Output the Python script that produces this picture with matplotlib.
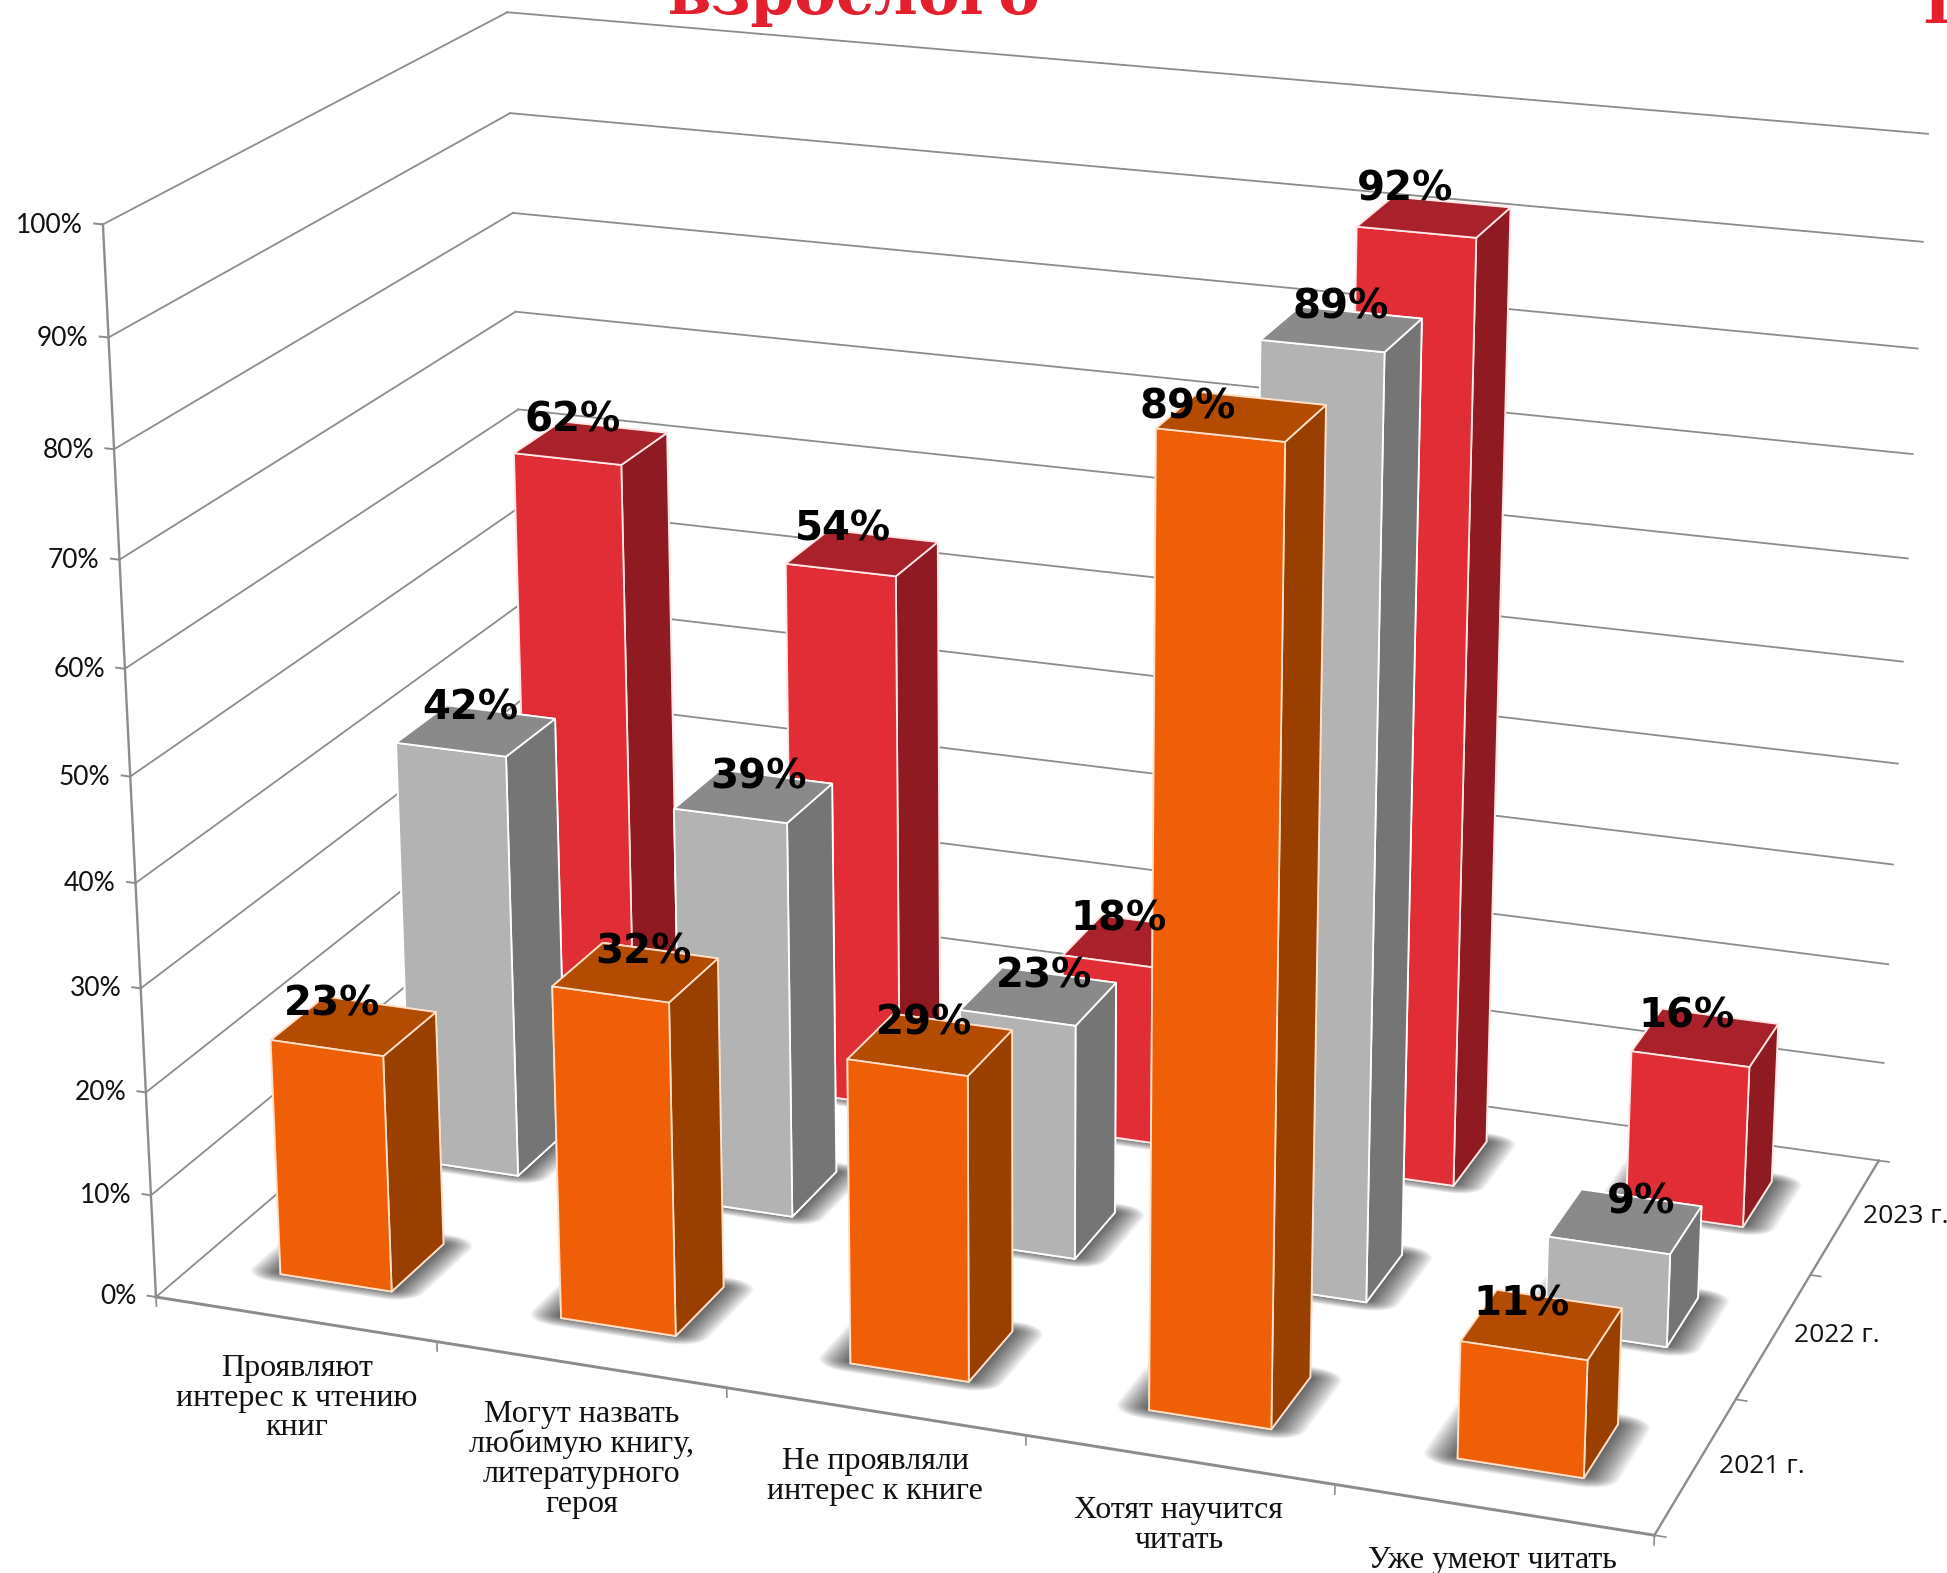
import numpy as np
import matplotlib
matplotlib.use("Agg")
import matplotlib.pyplot as plt
from mpl_toolkits.mplot3d.art3d import Poly3DCollection, Line3DCollection

W, H = 1947, 1573

# ---- chart data -----
categories = ["Проявляют\nинтерес к чтению\nкниг",
              "Могут назвать\nлюбимую книгу,\nлитературного\nгероя",
              "Не проявляли\nинтерес к книге",
              "Хотят научится\nчитать",
              "Уже умеют читать"]
series_names = ["2021 г.", "2022 г.", "2023 г."]
values_2021 = [23, 32, 29, 89, 11]
values_2022 = [42, 39, 23, 89, 9]
values_2023 = [62, 54, 18, 92, 16]
z_ticks = [0, 10, 20, 30, 40, 50, 60, 70, 80, 90, 100]

# ---- styles -----
front_cols = ["#EE5F08", "#B3B3B3", "#E02D36"]
side_cols = ["#994000", "#757575", "#8F1A22"]
top_cols = ["#B34B00", "#8A8A8A", "#A9212B"]
edge_cols = ["#FFE0C8", "#FFFFFF", "#FFE8E8"]
line_col = "#8C8C8C"

BAR = 0.4
PAD = 0.3

# label placement relative to each bar's top centre (x units, z units)
label_dx = [[-0.075, 0.03, -0.02, -0.17, -0.065],
            [-0.02, 0.02, 0.02, -0.005, 0.05],
            [-0.065, -0.07, -0.07, -0.10, -0.065]]
label_dz = [[1.8, 2.0, 1.9, 0.3, 1.6],
            [2.1, 1.9, 2.0, 1.9, 2.1],
            [2.1, 2.1, 2.1, 2.3, 1.9]]

# ---- perspective of the original chart: (x, y, z) -> pixel, fitted with the DLT method -----
calib = [
    (0, 0, 0, 157, 1298), (5, 0, 0, 1653, 1533), (5, 3, 0, 1878, 1160),
    (0, 0, 100, 103, 224), (0, 3, 100, 507, 12), (5, 3, 100, 1928, 133),
    (0, 0, 90, 109, 337), (0, 0, 80, 114, 449), (0, 0, 70, 120, 559), (0, 0, 60, 125, 667),
    (0, 0, 30, 140, 987), (0, 0, 20, 146, 1092), (0, 0, 10, 151, 1195),
    (0, 3, 80, 513, 213), (0, 3, 70, 515, 312), (0, 3, 60, 518, 410),
    (1, 0, 0, 437, 1341), (2, 0, 0, 726, 1386), (3, 0, 0, 1026, 1433), (4, 0, 0, 1335, 1485),
    (5, 1, 0, 1738, 1396), (5, 2, 0, 1813, 1271),
    (4.3, .3, 0, 1457, 1460), (4.7, .3, 0, 1584, 1478), (4.7, .7, 0, 1618, 1427),
    (4.3, .3, 11, 1460, 1344), (4.7, .3, 11, 1587, 1362), (4.7, .7, 11, 1620, 1312),
    (.3, .3, 0, 280, 1275), (.7, .3, 0, 392, 1292), (.7, .7, 0, 443, 1245),
    (.3, .3, 23, 272, 1041), (.7, .3, 23, 383, 1057), (.7, .7, 23, 435, 1013),
    (3.3, 2.3, 92, 1359, 228), (3.7, 2.3, 92, 1476, 238), (3.7, 2.7, 92, 1509, 208),
]
A, b = [], []
for X, Y, Z, u, v in calib:
    Z = Z / 100
    A.append([X, Y, Z, 1, 0, 0, 0, 0, -u * X, -u * Y, -u * Z]); b.append(u)
    A.append([0, 0, 0, 0, X, Y, Z, 1, -v * X, -v * Y, -v * Z]); b.append(v)
p = np.linalg.lstsq(np.array(A, float), np.array(b, float), rcond=None)[0]
P = np.append(p, 1.0).reshape(3, 4)
P[:, 2] /= 100
M = np.array([P[0], P[1], [0, 0, 0, -1.0], P[2]])

fig = plt.figure(figsize=(W / 100, H / 100), dpi=100, facecolor="white")
ax = fig.add_axes([0, 0, 1, 1], projection="3d", computed_zorder=False)
ax.set_axis_off()
ax.set_xticks([])
ax.set_yticks([])
ax.set_zticks([])
ax.get_proj = lambda: M
ax.apply_aspect = lambda position=None: None
ax.viewLim.intervalx = (0, W)
ax.viewLim.intervaly = (H, 0)


def label3d(x, y, z, s, **kw):
    """Real 2D text anchored at the projection of a chart coordinate."""
    u, v, w = P @ np.array([x, y, z, 1.0])
    return ax.text2D(u / w, v / w, s, transform=ax.transData, **kw)


def add_lines(segments, lw):
    ax.add_collection3d(Line3DCollection(segments, colors=line_col, linewidths=lw,
                                         zorder=5, capstyle="projecting"))


# walls
add_lines([[(0, 0, t), (0, 3, t)] for t in z_ticks] + [[(0, 3, t), (5, 3, t)] for t in z_ticks], 1.3)
add_lines([[(-0.03, 0, t), (0, 0, t)] for t in z_ticks], 1.4)
add_lines([[(0, 0, z_ticks[0]), (0, 0, z_ticks[-1])]], 1.7)
add_lines([[(0, 0, 0), (5, 0, 0)]], 2.1)
add_lines([[(5, 0, 0), (5, 3, 0)]], 1.7)
add_lines([[(i, 0, 0), (i, 0, -0.9)] for i in range(6)], 1.2)
add_lines([[(5, j, 0), (5.035, j, 0)] for j in range(4)], 1.2)

for t in z_ticks:
    label3d(-0.07, 0, t - 0.3, f"{t}%", ha="right", va="center", fontsize=19,
            family="Lato", color="#111111", zorder=50)

rows = [values_2021, values_2022, values_2023]


def rounded_rect(xa, xb, ya, yb, xr, yr, n=6):
    pts = []
    centres = [(xb - xr, yb - yr, 0), (xa + xr, yb - yr, 90), (xa + xr, ya + yr, 180), (xb - xr, ya + yr, 270)]
    for cx, cy, start in centres:
        for a in np.radians(np.linspace(start, start + 90, n)):
            pts.append((cx + xr * np.cos(a), cy + yr * np.sin(a), 0))
    return pts


# soft shadows on the floor
n_layers = 26
for r, vals in enumerate(rows):
    y0 = r + PAD
    for c in range(len(vals)):
        x0 = c + PAD
        for k in range(n_layers):
            t = 1 - k / (n_layers - 1)
            mx, my = 0.10 * t, 0.075 * t
            poly = [rounded_rect(x0 - 0.012 - mx, x0 + BAR + 0.005 + mx,
                                 y0 + 0.012 - my, y0 + BAR + my,
                                 max(mx, 1e-3) + 0.01, max(my, 1e-3) + 0.01)]
            ax.add_collection3d(Poly3DCollection(poly, facecolors=(0, 0, 0, 0.030),
                                                 edgecolors="none", zorder=6))

# bars, from the back row to the front row
for r in (2, 1, 0):
    vals = rows[r]
    for c, v in enumerate(vals):
        # faces: -z, +z, -y, +y, -x, +x
        faces = [side_cols[r], top_cols[r], front_cols[r], side_cols[r], front_cols[r], side_cols[r]]
        ax.bar3d(c + PAD, r + PAD, 0, BAR, BAR, v, color=faces, shade=False,
                 edgecolor=edge_cols[r], linewidth=1.3, zorder=10 + (2 - r) * 10 + c)

# value labels
for r, vals in enumerate(rows):
    for c, v in enumerate(vals):
        label3d(c + PAD + BAR / 2 + label_dx[r][c], r + PAD + BAR / 2, v + label_dz[r][c], f"{v}%",
                ha="center", va="center", fontsize=29, fontweight="bold",
                family="DejaVu Sans", color="black", zorder=60)

# category labels under the front edge
for c, name in enumerate(categories):
    label3d(c + 0.5, 0, -3.4, name, ha="center", va="top", fontsize=23,
            family="Liberation Serif", linespacing=1.04, color="#111111", zorder=50)

# series labels to the right of the floor
for j, name in enumerate(series_names):
    label3d(5.205, j + 0.5, 0.9, name, ha="center", va="center", fontsize=19,
            family="Open Sans", color="#111111", zorder=50)

# title cropped by the top of the picture
fig.text(668 / W, 1 - 14 / H, "взрослого", ha="left", va="baseline", fontsize=45,
         fontweight="bold", family="DejaVu Serif", color="#E31E2D")
fig.text(1922 / W, 1 - 23 / H, "П", ha="left", va="baseline", fontsize=45,
         fontweight="bold", family="DejaVu Serif", color="#E31E2D")

fig.savefig("out.png", dpi=100, facecolor="white")
